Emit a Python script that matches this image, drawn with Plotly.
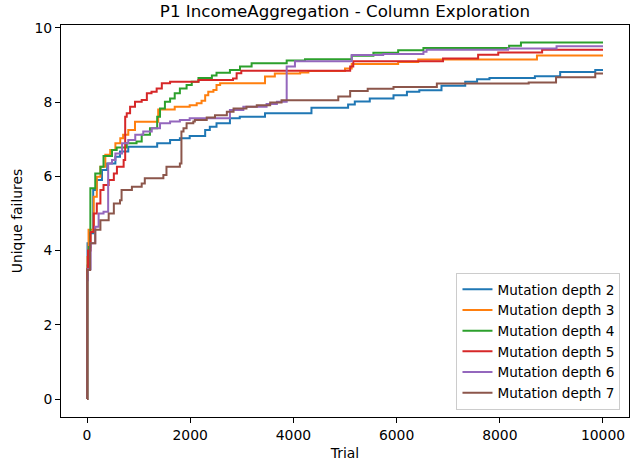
import plotly.graph_objects as go

# ---- data ----
series_names = ["Mutation depth 2", "Mutation depth 3", "Mutation depth 4",
                "Mutation depth 5", "Mutation depth 6", "Mutation depth 7"]
colors = ["#1f77b4", "#ff7f0e", "#2ca02c", "#d62728", "#9467bd", "#8c564b"]

trials_d2 = [0, 5, 10, 40, 120, 190, 290, 390, 550, 640, 800, 1360, 1610, 1800, 1990, 2290, 2380, 2510,
             2770, 2960, 3450, 4350, 5060, 5190, 5480, 5940, 6200, 6440, 6870, 7330, 7560, 7800, 8680,
             9170, 9850, 10000]
values_d2 = [0, 3.6, 4.2, 4.47, 5.63, 5.9, 6.17, 6.35, 6.53, 6.67, 6.80, 6.89, 6.98, 7.03, 7.09, 7.25, 7.34,
             7.43, 7.57, 7.61, 7.70, 7.85, 7.94, 8.02, 8.10, 8.19, 8.28, 8.32, 8.44, 8.55, 8.62, 8.65, 8.70,
             8.81, 8.87, 8.87]

trials_d3 = [0, 5, 10, 30, 130, 190, 260, 355, 450, 550, 645, 700, 800, 930, 1380, 1700, 1990, 2126,
             2220, 2290, 2350, 2450, 2510, 2580, 3450, 3640, 4130, 4290, 5000, 5130, 6030, 6420, 8720,
             10000]
values_d3 = [0, 3.5, 3.83, 4.56, 5.45, 5.99, 6.26, 6.58, 6.71, 6.89, 7.03, 7.12, 7.25, 7.47, 7.80, 7.88,
             7.92, 7.97, 8.04, 8.19, 8.28, 8.33, 8.46, 8.51, 8.69, 8.77, 8.80, 8.84, 8.91, 9.03, 9.08, 9.15,
             9.26, 9.26]

trials_d4 = [0, 8, 40, 65, 160, 260, 320, 485, 575, 770, 960, 1060, 1220, 1360, 1415, 1510, 1610, 1700,
             1800, 1930, 2030, 2160, 2420, 2510, 2770, 2965, 3190, 3870, 4225, 5130, 5550, 6030, 6520,
             8180, 8410, 10000]
values_d4 = [0, 3.5, 4.1, 5.68, 6.08, 6.26, 6.55, 6.71, 6.78, 6.89, 6.94, 7.12, 7.30, 7.61, 7.83, 8.01,
             8.10, 8.24, 8.37, 8.46, 8.55, 8.65, 8.72, 8.79, 8.87, 8.96, 9.05, 9.12, 9.16, 9.25, 9.33, 9.40,
             9.46, 9.52, 9.61, 9.61]

trials_d5 = [0, 5, 20, 70, 130, 190, 260, 320, 420, 520, 580, 710, 740, 770, 835, 930, 1060, 1160, 1250,
             1350, 1450, 1610, 2160, 2830, 2900, 2990, 5100, 5160, 6900, 7580, 7970, 8820, 10000]
values_d5 = [0, 3.5, 4.0, 4.5, 5.0, 5.27, 5.63, 5.77, 5.9, 6.08, 6.26, 6.44, 7.61, 7.70, 7.88, 8.01, 8.06,
             8.24, 8.28, 8.37, 8.51, 8.55, 8.60, 8.64, 8.78, 8.85, 8.96, 9.10, 9.18, 9.28, 9.34, 9.41, 9.41]

trials_d6 = [0, 5, 15, 70, 160, 225, 320, 410, 485, 550, 680, 800, 935, 1090, 1255, 1415, 1610, 1800,
             1990, 2770, 3030, 3480, 3680, 3870, 4030, 5130, 5740, 6520, 6580, 8160, 9100, 10000]
values_d6 = [0, 3.2, 3.5, 4.2, 4.64, 5.0, 5.05, 6.35, 6.44, 6.62, 6.89, 6.98, 7.12, 7.21, 7.30, 7.43,
             7.48, 7.52, 7.57, 7.79, 7.88, 7.95, 8.01, 8.96, 9.10, 9.27, 9.30, 9.36, 9.41, 9.45, 9.51, 9.51]

trials_d7 = [0, 3, 10, 60, 160, 260, 420, 520, 640, 670, 870, 1060, 1120, 1480, 1540, 1800, 1830, 1870,
             1930, 2060, 2090, 2320, 2480, 2710, 2840, 3090, 3290, 3550, 3770, 4870, 5100, 5440, 5940,
             6780, 8560, 9090, 9850, 10000]
values_d7 = [0, 3.2, 3.48, 4.2, 4.56, 4.82, 5.0, 5.27, 5.36, 5.63, 5.72, 5.81, 5.95, 6.04, 6.26, 6.35,
             7.21, 7.30, 7.43, 7.48, 7.52, 7.59, 7.65, 7.74, 7.83, 7.88, 7.92, 7.99, 8.05, 8.15, 8.30, 8.36,
             8.41, 8.50, 8.53, 8.67, 8.77, 8.77]

x_ticks = [0, 2000, 4000, 6000, 8000, 10000]
y_ticks = [0, 2, 4, 6, 8, 10]

title_text = "P1 IncomeAggregation - Column Exploration"
x_label = "Trial"
y_label = "Unique failures"

all_trials = [trials_d2, trials_d3, trials_d4, trials_d5, trials_d6, trials_d7]
all_values = [values_d2, values_d3, values_d4, values_d5, values_d6, values_d7]

FONT = "DejaVu Sans"

fig = go.Figure()
for name, col, xs, ys in zip(series_names, colors, all_trials, all_values):
    fig.add_trace(go.Scatter(x=xs, y=ys, mode="lines", name=name,
                             line=dict(color=col, width=2, shape="hv")))

axis_common = dict(showline=True, linecolor="black", linewidth=1, mirror=True,
                   ticks="outside", ticklen=5, tickwidth=1, tickcolor="black",
                   showgrid=False, zeroline=False,
                   tickfont=dict(family=FONT, size=13.9, color="black"))

fig.update_layout(
    width=636, height=462,
    margin=dict(l=61, r=7, t=25, b=45, autoexpand=False),
    paper_bgcolor="white", plot_bgcolor="white",
    font=dict(family=FONT, size=13.9, color="black"),
    title=dict(text=title_text, x=0.5, xanchor="center", xref="paper",
               y=1 - 11 / 462, yanchor="middle", yref="container",
               font=dict(family=FONT, size=16.7, color="black")),
    xaxis=dict(range=[-504, 10504], tickvals=x_ticks, ticktext=[str(v) for v in x_ticks],
               title=dict(text=x_label, standoff=6, font=dict(family=FONT, size=13.9)),
               automargin=False, **axis_common),
    yaxis=dict(range=[-0.485, 10.08], tickvals=y_ticks, ticktext=[str(v) for v in y_ticks],
               title=dict(text=y_label, standoff=8, font=dict(family=FONT, size=13.9)),
               automargin=False, **axis_common),
    legend=dict(x=0.985, xanchor="right", y=0.018, yanchor="bottom",
                bgcolor="rgba(255,255,255,0.8)", bordercolor="#cccccc", borderwidth=1,
                font=dict(family=FONT, size=13.6, color="black"),
                tracegroupgap=0),
    showlegend=True,
)

fig.write_html("out.html", config={"displayModeBar": False},
               post_script="document.body.style.margin='0';document.body.style.padding='0';")
